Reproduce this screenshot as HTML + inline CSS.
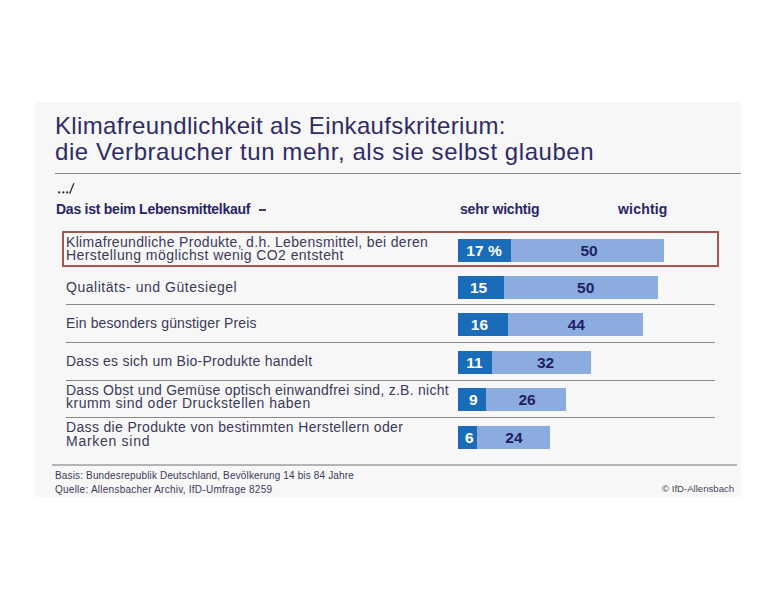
<!DOCTYPE html>
<html><head><meta charset="utf-8">
<style>
html,body{margin:0;padding:0;background:#fff;}
body{width:776px;height:600px;position:relative;overflow:hidden;font-family:"Liberation Sans",sans-serif;}
.a{position:absolute;white-space:nowrap;}
#panel{left:35px;top:102px;width:706px;height:395px;background:#f7f7f7;}
.title{left:55px;font-size:24px;line-height:26px;color:#2e2c68;}
.hd{font-size:14px;line-height:16px;font-weight:bold;color:#282566;letter-spacing:-0.2px;}
.row{left:66px;font-size:14px;line-height:13.6px;color:#3b3a58;letter-spacing:0.3px;}
.sep{left:66px;width:649px;height:1px;background:#8a8a8a;}
.bd{background:#1a6bb8;height:23px;}
.bl{background:#8cacdf;height:23px;}
.n{width:100px;text-align:center;font-weight:bold;font-size:15.5px;line-height:23px;}
.nd{color:#fff;}
.nl{color:#1f2163;}
.ft{left:55px;font-size:10px;line-height:13px;color:#3b3a58;letter-spacing:0.15px;}
#box{left:62px;top:231px;width:653px;height:32px;border:2px solid #a9564c;}
</style></head>
<body>
<div class="a" id="panel"></div>

<div class="a title" style="top:112.98px;letter-spacing:0.35px;">Klimafreundlichkeit als Einkaufskriterium:</div>
<div class="a title" style="top:138.98px;letter-spacing:0.56px;">die Verbraucher tun mehr, als sie selbst glauben</div>
<div class="a" style="left:55px;top:173px;width:686px;height:1px;background:#8a8a98;"></div>
<svg class="a" style="left:0;top:0" width="776" height="600"><g fill="#2e2d40"><circle cx="59.2" cy="192.4" r="1.15"/><circle cx="63.3" cy="192.4" r="1.15"/><circle cx="67.2" cy="192.4" r="1.15"/></g><line x1="69.6" y1="193.8" x2="73.9" y2="183.2" stroke="#2e2d40" stroke-width="1.3"/></svg>
<div class="a hd" style="left:56px;top:200.95px;letter-spacing:-0.25px;">Das ist beim Lebensmittelkauf</div>
<div class="a" style="left:259px;top:209px;width:6.5px;height:1.6px;background:#3e3b6e;"></div>
<div class="a hd" style="left:460px;top:200.95px;">sehr wichtig</div>
<div class="a hd" style="left:618px;top:200.95px;letter-spacing:0.2px;">wichtig</div>
<div class="a" id="box"></div>
<div class="a row" style="top:235.65px;letter-spacing:0.33px">Klimafreundliche Produkte, d.h. Lebensmittel, bei deren</div>
<div class="a row" style="top:249.25px;letter-spacing:0.43px">Herstellung möglichst wenig CO2 entsteht</div>
<div class="a row" style="top:280.55px;letter-spacing:0.53px">Qualitäts- und Gütesiegel</div>
<div class="a row" style="top:317.35px;letter-spacing:0.13px">Ein besonders günstiger Preis</div>
<div class="a row" style="top:354.65px;letter-spacing:0.25px">Dass es sich um Bio-Produkte handelt</div>
<div class="a row" style="top:383.95px;letter-spacing:0.26px">Dass Obst und Gemüse optisch einwandfrei sind, z.B. nicht</div>
<div class="a row" style="top:397.35px;letter-spacing:0.49px">krumm sind oder Druckstellen haben</div>
<div class="a row" style="top:421.25px;letter-spacing:0.34px">Dass die Produkte von bestimmten Herstellern oder</div>
<div class="a row" style="top:434.75px;letter-spacing:0.72px">Marken sind</div>
<div class="a sep" style="top:304px"></div>
<div class="a sep" style="top:342px"></div>
<div class="a sep" style="top:380px"></div>
<div class="a sep" style="top:417px"></div>
<div class="a bd" style="left:458px;top:239px;width:53px;"></div>
<div class="a bl" style="left:511px;top:239px;width:153px;"></div>
<div class="a n nd" style="left:434.0px;top:239px;">17 %</div>
<div class="a n nl" style="left:539.0px;top:239px;">50</div>
<div class="a bd" style="left:458px;top:276px;width:46px;"></div>
<div class="a bl" style="left:504px;top:276px;width:154px;"></div>
<div class="a n nd" style="left:428.5px;top:276px;">15</div>
<div class="a n nl" style="left:535.7px;top:276px;">50</div>
<div class="a bd" style="left:458px;top:313px;width:50px;"></div>
<div class="a bl" style="left:508px;top:313px;width:135px;"></div>
<div class="a n nd" style="left:429.4px;top:313px;">16</div>
<div class="a n nl" style="left:526.3px;top:313px;">44</div>
<div class="a bd" style="left:458px;top:351px;width:34px;"></div>
<div class="a bl" style="left:492px;top:351px;width:99px;"></div>
<div class="a n nd" style="left:424.4px;top:351px;">11</div>
<div class="a n nl" style="left:495.5px;top:351px;">32</div>
<div class="a bd" style="left:458px;top:388px;width:28px;"></div>
<div class="a bl" style="left:486px;top:388px;width:80px;"></div>
<div class="a n nd" style="left:423.2px;top:388px;">9</div>
<div class="a n nl" style="left:477.0px;top:388px;">26</div>
<div class="a bd" style="left:458px;top:426px;width:19px;"></div>
<div class="a bl" style="left:477px;top:426px;width:73px;"></div>
<div class="a n nd" style="left:419.2px;top:426px;">6</div>
<div class="a n nl" style="left:463.9px;top:426px;">24</div>
<div class="a" style="left:52px;top:464px;width:685px;height:2px;background:#b4b4b4;"></div>
<div class="a ft" style="top:469.04px">Basis: Bundesrepublik Deutschland, Bevölkerung 14 bis 84 Jahre</div>
<div class="a ft" style="top:482.64px;letter-spacing:0.25px">Quelle: Allensbacher Archiv, IfD-Umfrage 8259</div>
<div class="a ft" style="left:662px;top:482.37px;font-size:9.6px;letter-spacing:0px;color:#484858;">© IfD-Allensbach</div>
</body></html>
